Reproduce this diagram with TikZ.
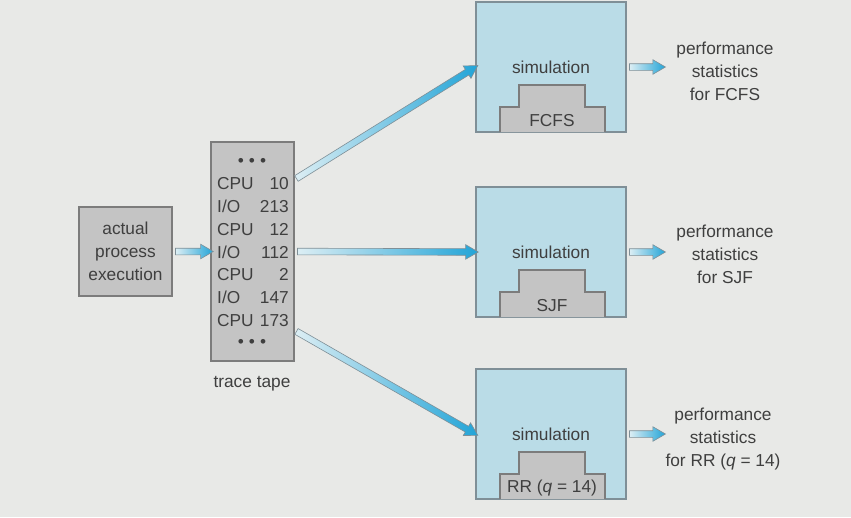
\documentclass[tikz,border=0pt]{standalone}
\usepackage{fontspec}
\setmainfont{Liberation Sans}
\usetikzlibrary{shapes.arrows,calc}
\definecolor{bg}{HTML}{E8E9E7}
\definecolor{boxgray}{HTML}{C4C4C4}
\definecolor{edgegray}{HTML}{7C7C7C}
\definecolor{simblue}{HTML}{BADCE7}
\definecolor{simedge}{HTML}{7F8F97}
\definecolor{txtgray}{HTML}{3F3F3F}
\definecolor{tailblue}{HTML}{DCEEF4}
\definecolor{headblue}{HTML}{22A4D7}
\tikzset{
  graybox/.style={draw=edgegray, fill=boxgray, line width=1.2pt, inner sep=0pt},
  simbox/.style={draw=simedge, fill=simblue, line width=1.2pt, minimum width=150pt, minimum height=130pt, inner sep=0pt},
  txt/.style={text=txtgray, font=\fontsize{17.3}{23}\selectfont, align=center, inner sep=0pt},
  fatarrow/.style={single arrow, draw=simedge, line width=0.6pt, left color=tailblue, right color=headblue,
    minimum width=14pt, single arrow head extend=4pt, single arrow tip angle=60,
    inner xsep=0pt, inner ysep=3pt, sloped, anchor=center},
}
\begin{document}
\begin{tikzpicture}[x=1pt,y=1pt]
    % Background
    \fill[bg] (0,0) rectangle (851,-517);
    \useasboundingbox (0,0) rectangle (851,-517);

    % Process and trace tape
    \node[graybox, txt, minimum width=93pt, minimum height=89pt] (act) at (125.5,-251.5) {actual\\process\\execution};
    \node[graybox, minimum width=83pt, minimum height=219pt] (tape) at (252.5,-251.5) {};
    \node[txt] (dotsT) at (252,-162) {•\hspace{5pt}•\hspace{5pt}•};
    \node[txt] (dotsB) at (252,-343) {•\hspace{5pt}•\hspace{5pt}•};
    \foreach \lbl/\val [count=\i] in {CPU/10, I\slash O/213, CPU/12, I\slash O/112, CPU/2, I\slash O/147, CPU/173} {
        \node[txt, anchor=west] (op\i) at (217,{-184-(\i-1)*22.7}) {\lbl};
        \node[txt, anchor=east] (len\i) at (289,{-184-(\i-1)*22.7}) {\val};
    }
    \node[txt] (tapelbl) at (252,-384) {trace tape};

    % Simulations
    \foreach \y/\alg [count=\i] in {-67/FCFS, -252/SJF, -434/{RR (\textit{q} = 14)}} {
        \node[simbox] (sim\i) at (551,\y) {};
        \draw[graybox] (500,\y-65) -- ++(0,25) -- ++(19,0) -- ++(0,22) -- ++(66,0) -- ++(0,-22) -- ++(20,0) -- ++(0,-25);
        \node[txt] (simlbl\i) at (551,\y) {simulation};
        \node[txt] (alg\i) at (552,\y-54) {\alg};
    }

    % Statistics
    \node[txt] (statA) at (725,-71) {performance\\statistics\\for FCFS};
    \node[txt] (statB) at (725,-254.5) {performance\\statistics\\for SJF};
    \node[txt] (statC) at (723,-439) {performance\\statistics\\for RR (\textit{q} = 14)};

    % Arrows
    \coordinate (tA) at (294,-180);
    \coordinate (tC) at (294,-330);
    \coordinate (oA) at ($(sim1.east)+(36,0)$);
    \coordinate (oB) at ($(sim2.east)+(36,0)$);
    \coordinate (oC) at ($(sim3.east)+(36,0)$);
    \foreach \a/\b in {act.east/tape.west, tA/sim1.west, tape.east/sim2.west, tC/sim3.west, sim1.east/oA, sim2.east/oB, sim3.east/oC} {
        \path let \p1=($(\b)-(\a)$), \n1={veclen(\x1,\y1)} in
            (\a) -- (\b) node[fatarrow, midway, minimum height=\n1] {};
    }
\end{tikzpicture}
\end{document}
